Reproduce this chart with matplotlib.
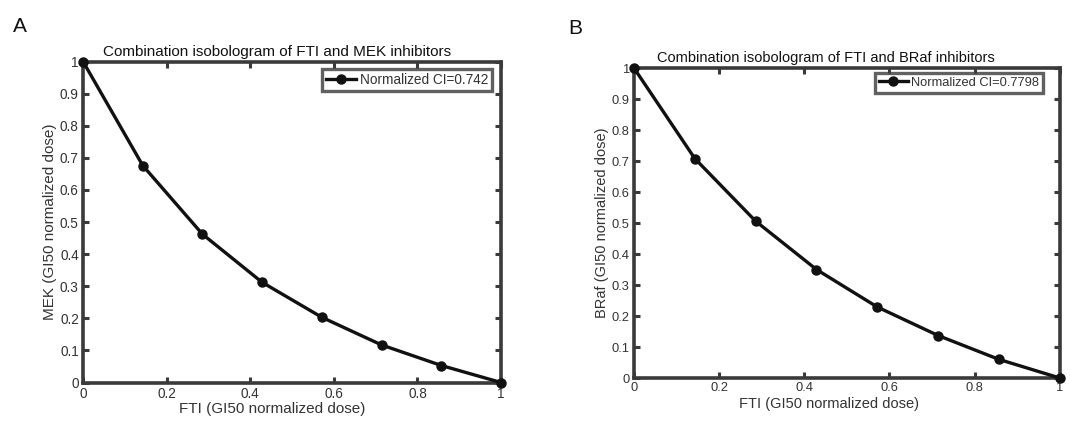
import numpy as np
import matplotlib.pyplot as plt

plt.rcParams['font.family'] = ['Liberation Sans', 'DejaVu Sans']

# Normalized FTI dose (x) shared by both panels
fti_dose = [0, 1/7, 2/7, 3/7, 4/7, 5/7, 6/7, 1]
# Partner inhibitor dose on the isobologram
mek_dose = [1.0, 0.676, 0.462, 0.312, 0.203, 0.117, 0.053, 0.0]
braf_dose = [1.0, 0.708, 0.506, 0.350, 0.229, 0.137, 0.060, 0.0]

titles = ['Combination isobologram of FTI and MEK inhibitors',
          'Combination isobologram of FTI and BRaf inhibitors']
ylabels = ['MEK (GI50 normalized dose)', 'BRaf (GI50 normalized dose)']
xlabel = 'FTI (GI50 normalized dose)'
legend_labels = ['Normalized CI=0.742', 'Normalized CI=0.7798']
panel_labels = ['A', 'B']

spine_col = '#3a3a3a'
text_col = '#333333'

fig = plt.figure(figsize=(10.70, 4.21), dpi=100)
ax_a = fig.add_axes([0.0776, 0.0914, 0.3907, 0.7625])
ax_b = fig.add_axes([0.5925, 0.1021, 0.398, 0.7363])

# per-panel tweaks: font size, title/xlabel position, legend anchor
panel_opts = [
    dict(fs=9.8, tx=0.465, xl=(0.453, -0.060), leg=(0.9785, 0.978)),
    dict(fs=9.3, tx=0.450, xl=(0.458, -0.062), leg=(0.960, 0.984)),
]

for ax, ydata, title, ylab, lab, opt in zip([ax_a, ax_b], [mek_dose, braf_dose],
                                            titles, ylabels, legend_labels, panel_opts):
    fs = opt['fs']
    ax.plot(fti_dose, ydata, color='#111111', lw=2.4, marker='o', ms=6.5,
            label=lab, clip_on=False, zorder=5)
    ax.set_xlim(0, 1)
    ax.set_ylim(0, 1)
    ax.set_xticks(np.arange(0, 1.01, 0.2))
    ax.set_yticks(np.arange(0, 1.01, 0.1))
    ax.set_xticklabels(['0', '0.2', '0.4', '0.6', '0.8', '1'])
    ax.set_yticklabels(['0'] + [f'{v:.1f}' for v in np.arange(0.1, 0.95, 0.1)] + ['1'])
    ax.tick_params(direction='in', length=4, width=2.2, color=spine_col,
                   labelcolor=text_col, labelsize=fs, top=True, right=True, pad=3)
    for s in ax.spines.values():
        s.set_linewidth(2.6)
        s.set_color(spine_col)
    ax.set_title(title, fontsize=fs + 1.2, color='#111111', pad=4, x=opt['tx'])
    ax.set_xlabel(xlabel, fontsize=fs + 1.2, color=text_col)
    ax.xaxis.set_label_coords(*opt['xl'], transform=ax.transAxes)
    ax.xaxis.label.set_va('top')
    ax.set_ylabel(ylab, fontsize=fs + 1.2, color=text_col, labelpad=2)
    leg = ax.legend(loc='upper right', bbox_to_anchor=opt['leg'], fontsize=fs,
                    frameon=True, fancybox=False, handlelength=2.2,
                    handletextpad=0.25, borderpad=0.3, borderaxespad=0)
    leg.get_frame().set_edgecolor(spine_col)
    leg.get_frame().set_linewidth(2.4)
    for t in leg.get_texts():
        t.set_color(text_col)

fig.text(0.012, 0.96, panel_labels[0], fontsize=15, color='#111111', va='top')
fig.text(0.531, 0.955, panel_labels[1], fontsize=15, color='#111111', va='top')

plt.savefig('out.png', dpi=100)
plt.close()
